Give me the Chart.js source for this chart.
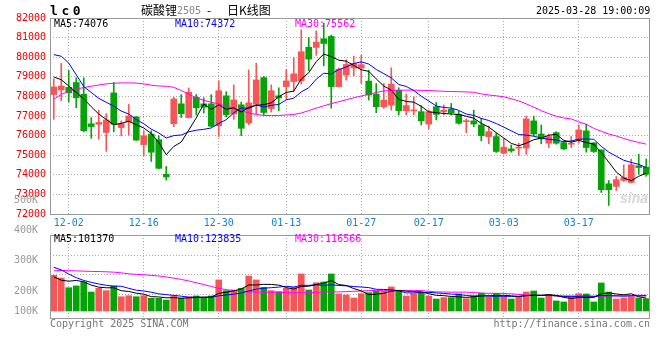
<!DOCTYPE html>
<html>
<head>
<meta charset="utf-8">
<title>碳酸锂2505 日K线图</title>
<script src="https://cdn.jsdelivr.net/npm/chart.js@4/dist/chart.umd.min.js"></script>
<style>
  body { margin: 0; background: #fff; }
  #wrap { position: relative; width: 660px; height: 360px; overflow: hidden; font-family: "DejaVu Sans Mono", monospace; }
  canvas { position: absolute; left: 0; }
  #priceChart { top: 0; }
  #volChart { top: 195px; }
  .txt { position: absolute; font-size: 10px; line-height: 12px; white-space: pre; color: #000; }
  .cjk { font-family: "Noto Sans CJK SC", sans-serif; font-size: 12px; line-height: 14px; }
</style>
</head>
<body>
<div id="wrap">
  <canvas id="priceChart" width="660" height="232"></canvas>
  <canvas id="volChart" width="660" height="145"></canvas>

  <div class="txt" style="left:50px;top:4px;font-size:13px;line-height:14px;font-weight:bold;letter-spacing:3.6px">lc0</div>
  <div class="txt cjk" style="left:141px;top:3px">碳酸锂</div>
  <div class="txt" style="left:177px;top:5px;color:#888">2505</div>
  <div class="txt cjk" style="left:207px;top:3px">-</div>
  <div class="txt cjk" style="left:227px;top:3px">日K线图</div>
  <div class="txt" style="left:536px;top:5px">2025-03-28 19:00:09</div>

  <div class="txt" style="left:54px;top:18px">MA5:74076</div>
  <div class="txt" style="left:175px;top:18px;color:#00f">MA10:74372</div>
  <div class="txt" style="left:295px;top:18px;color:#f0f">MA30:75562</div>

  <div class="txt" style="left:54px;top:233px">MA5:101370</div>
  <div class="txt" style="left:175px;top:233px;color:#00f">MA10:123835</div>
  <div class="txt" style="left:295px;top:233px;color:#f0f">MA30:116566</div>

  <div class="txt" style="left:620px;top:192px;font-family:'Liberation Sans',sans-serif;font-size:14px;font-style:italic;font-weight:bold;color:#d6d6d6">sina</div>

  <div class="txt" style="left:50px;top:318px;color:#777">Copyright 2025 SINA.COM</div>
  <div class="txt" style="right:10px;top:318px;color:#777">http://finance.sina.com.cn</div>
</div>

<script>
// daily candles, 2024-11-28 .. 2025-03-28 (80 trading days)
const open = [
  78090, 78330, 78460, 78710, 78110, 76600, 76580, 76160, 78180, 76410,
  76700, 76950, 75540, 76080, 75790, 74030, 76610, 77620, 76920, 77960,
  77620, 77620, 76500, 78030, 77100, 77570, 76650, 77600, 78960, 77380,
  78030, 78500, 78760, 78800, 80510, 80500, 80940, 81060, 78500, 79090,
  79450, 79450, 78780, 78120, 77470, 77560, 78320, 77270, 77260, 77220,
  76590, 77470, 77220, 77340, 77080, 76710, 76750, 76540, 75950, 75950,
  75100, 75320, 75360, 75360, 76750, 76080, 75610, 76150, 75640, 75560,
  75780, 76240, 75630, 75270, 73540, 73410, 73710, 73610, 74460, 74390
];
const high = [
  78900, 79690, 79320, 78950, 78950, 76920, 77290, 77120, 78710, 76750,
  77590, 76980, 76250, 76250, 75990, 74430, 77960, 78090, 78430, 78100,
  77930, 78090, 78800, 78240, 78590, 77710, 79350, 79700, 79020, 78590,
  78440, 79360, 79980, 81400, 81000, 81340, 81740, 81130, 79450, 79870,
  80050, 80100, 79340, 78660, 78660, 79460, 78440, 78120, 77980, 77530,
  77300, 77690, 77560, 77640, 77250, 76850, 77300, 76880, 76490, 76120,
  75830, 75520, 75610, 77000, 77000, 76540, 76070, 76200, 75700, 75950,
  76540, 76580, 75640, 75270, 73710, 73910, 74510, 74800, 75050, 74810
];
const low = [
  76830, 77790, 77720, 77420, 76200, 75860, 75810, 75200, 76190, 75990,
  76030, 75740, 74970, 74680, 74300, 73730, 76450, 76920, 76900, 77050,
  77150, 76450, 75950, 76950, 76830, 76000, 76560, 77100, 77040, 77200,
  77270, 77850, 78250, 78630, 79310, 80100, 79560, 77400, 78490, 78830,
  79050, 78660, 77810, 77170, 77390, 77300, 77050, 77050, 77050, 76540,
  76340, 76800, 77050, 77050, 76580, 76150, 76460, 75730, 75580, 75140,
  75050, 75150, 74980, 75050, 76000, 75580, 75390, 75560, 75280, 75390,
  75610, 75150, 75140, 73100, 72440, 73200, 73660, 73580, 74030, 73920
];
const close = [
  78480, 78530, 78190, 77930, 76250, 76460, 76670, 76800, 76580, 76610,
  77000, 75770, 75990, 75150, 74330, 73890, 77870, 77120, 78210, 77420,
  77450, 76480, 78290, 77060, 77820, 76370, 77670, 78840, 77180, 78290,
  77920, 78790, 79150, 80280, 79900, 80770, 80700, 78500, 79380, 79630,
  79680, 79620, 78070, 77470, 77810, 78630, 77270, 77530, 77290, 76750,
  77220, 77080, 77300, 77170, 76630, 76750, 76590, 76000, 76200, 75190,
  75410, 75220, 75390, 76850, 76080, 75830, 75950, 75610, 75320, 75610,
  76290, 75390, 75190, 73240, 73240, 73750, 73860, 74510, 74370, 74030
];

// moving-average lines as drawn on the price panel
const ma5 = [
  78990, 78850, 78530, 78200, 77876, 77472, 77100, 76822, 76552, 76624,
  76732, 76552, 76390, 76104, 75648, 75026, 75446, 75672, 76284, 76902,
  77614, 77336, 77570, 77340, 77420, 77204, 77442, 77552, 77576, 77670,
  77980, 78204, 78266, 78886, 79208, 79778, 80160, 80030, 79850, 79796,
  79578, 79362, 79276, 78894, 78530, 78320, 77850, 77742, 77706, 77494,
  77212, 77174, 77128, 77104, 77080, 76986, 76888, 76628, 76434, 76146,
  75878, 75604, 75482, 75612, 75790, 75874, 76020, 76064, 75758, 75664,
  75756, 75644, 75560, 75144, 74650, 74142, 73836, 73700, 73926, 74084
];
const ma10 = [
  80130, 80050, 79700, 79100, 78500, 78200, 77900, 77700, 77500, 77250,
  77102, 76826, 76606, 76328, 76136, 75879, 75999, 76031, 76194, 76275,
  76320, 76391, 76621, 76812, 77161, 77409, 77389, 77561, 77458, 77545,
  77592, 77823, 77909, 78231, 78439, 78879, 79182, 79148, 79368, 79502,
  79678, 79761, 79653, 79372, 79163, 78949, 78606, 78509, 78300, 78012,
  77766, 77512, 77435, 77405, 77287, 77099, 77031, 76878, 76769, 76613,
  76432, 76246, 76055, 76023, 75968, 75876, 75812, 75773, 75685, 75727,
  75815, 75832, 75812, 75451, 75157, 74949, 74740, 74630, 74535, 74367
];
const ma30 = [
  77850, 78100, 78250, 78380, 78450, 78520, 78580, 78640, 78670, 78690,
  78690, 78680, 78640, 78570, 78530, 78520, 78460, 78300, 78120, 77920,
  77800, 77700, 77620, 77500, 77380, 77280, 77150, 77080, 77030, 77020,
  77030, 77050, 77080, 77150, 77280, 77400, 77520, 77630, 77730, 77830,
  77930, 78020, 78110, 78200, 78280, 78300, 78310, 78320, 78320, 78310,
  78300, 78280, 78260, 78250, 78240, 78230, 78210, 78130, 78070, 78030,
  77980, 77880, 77770, 77620, 77450, 77270, 77120, 76990, 76900, 76850,
  76700, 76580, 76370, 76220, 76080, 75980, 75850, 75740, 75650, 75562
];

// volume, thousands of lots
const vol = [
  281, 259, 183, 197, 228, 149, 178, 160, 197, 112,
  120, 112, 120, 100, 100, 86, 118, 100, 112, 118,
  100, 118, 244, 160, 165, 178, 275, 244, 186, 160,
  152, 178, 186, 291, 165, 222, 228, 291, 134, 126,
  102, 136, 144, 155, 157, 189, 160, 118, 136, 149,
  118, 94, 105, 105, 134, 97, 118, 141, 108, 139,
  112, 94, 112, 149, 157, 102, 126, 79, 71, 116,
  136, 134, 71, 220, 149, 94, 102, 112, 102, 97
];
const volMa5 = [
  268, 242, 234, 240, 229.6, 203.2, 187, 182.4, 182.4, 159.2,
  153.4, 140.2, 132.2, 112.8, 110.4, 103.6, 104.8, 100.8, 103.2, 106.8,
  109.6, 109.6, 138.4, 148, 157.4, 173, 204.4, 204.4, 209.6, 208.6,
  203.4, 184, 172.4, 193.4, 194.4, 208.4, 218.4, 239.4, 208, 200.2,
  176.2, 157.8, 128.4, 132.6, 138.8, 156.2, 161, 155.8, 152, 150.4,
  136.2, 123, 120.4, 114.2, 111.2, 107, 111.8, 119, 119.6, 120.6,
  123.6, 118.8, 113, 121.2, 124.8, 122.8, 129.2, 122.6, 107, 98.8,
  105.6, 107.2, 105.6, 135.4, 142, 133.6, 127.2, 135.4, 111.8, 101.4
];
const volMa10 = [
  343, 323, 290, 262, 240, 225, 212, 202, 195, 194.4,
  178.3, 163.6, 157.3, 147.6, 134.8, 128.5, 122.5, 116.5, 108, 108.6,
  106.6, 107.2, 119.6, 125.6, 132.1, 141.3, 157, 171.4, 178.8, 183,
  188.2, 194.2, 188.4, 201.5, 201.5, 205.9, 201.2, 205.9, 200.7, 197.3,
  192.3, 188.1, 183.9, 170.3, 169.5, 166.2, 159.4, 142.1, 142.3, 144.6,
  146.2, 142, 138.1, 133.1, 130.8, 121.6, 117.4, 119.7, 116.9, 115.9,
  115.3, 115.3, 116, 120.4, 122.7, 123.2, 124, 117.8, 114.1, 111.8,
  114.2, 118.2, 114.1, 121.2, 120.4, 119.6, 117.2, 120.5, 123.6, 121.7
];
const volMa30 = [
  316, 318, 317, 315, 313, 311, 310, 308, 305, 300,
  292, 288, 285, 280, 275, 268, 258, 248, 236, 222,
  208, 193, 178, 168, 160, 155, 151, 149, 148, 147,
  146, 145, 144, 144, 145, 147, 149, 150, 150, 152,
  155, 157, 160, 162, 162, 162, 162, 162, 162, 160,
  155, 150, 149, 148, 148, 148, 145, 140, 139, 139,
  138, 135, 130, 126, 124, 122, 121, 120, 119, 118,
  118, 117, 116, 116, 117, 118, 118, 117, 117, 117
];

// date ticks (index into the candle arrays)
const tickIdx = [2, 12, 22, 31, 41, 50, 60, 70];
const tickLabels = ['12-02', '12-16', '12-30', '01-13', '01-27', '02-17', '03-03', '03-17'];

// volume panel: dotted grid levels, and Sina's label column (its own spacing, lowest label pinned to the bar base)
const volGridVals = [131, 283, 435];
const volTickVals = [500, 400, 300, 200, 133];
const volTickLabels = ['500K', '400K', '300K', '200K', '100K'];

const RED = '#f85656';
const GREEN = '#06a306';
const monoFont = { family: '"DejaVu Sans Mono", monospace', size: 10 };
const dotted = { display: false, dash: [1, 2] };

const idx = close.map((_, i) => i);
const candleColors = idx.map(i => close[i] >= open[i] ? RED : GREEN);

// gray box round each plot area
const framePlugin = {
    id: 'frame',
    afterDraw(chart) {
        const a = chart.chartArea;
        const ctx = chart.ctx;
        ctx.save();
        ctx.strokeStyle = '#999';
        ctx.lineWidth = 1;
        ctx.strokeRect(Math.round(a.left) + 0.5, Math.round(a.top) + 0.5,
            Math.round(a.right - a.left) - 1, Math.round(a.bottom - a.top));
        ctx.restore();
    }
};

function maLine(values, color) {
    return {
        type: 'line',
        data: idx.map(i => ({ x: i, y: values[i] })),
        borderColor: color,
        borderWidth: 1,
        pointRadius: 0,
        tension: 0,
        order: 0
    };
}

function dateAxis(showLabels) {
    return {
        type: 'linear',
        min: -0.5,
        max: 79.5,
        offset: false,
        afterBuildTicks: s => { s.ticks = tickIdx.map(v => ({ value: v })); },
        afterFit: s => { s.height = showLabels ? 18 : 0; },
        ticks: {
            display: showLabels,
            autoSkip: false,
            maxRotation: 0,
            padding: 3,
            color: '#1683d8',
            font: monoFont,
            callback: (v, i) => tickLabels[i]
        },
        grid: { color: '#aaa', drawTicks: false, offset: false },
        border: dotted
    };
}

const baseOptions = {
    responsive: false,
    animation: false,
    events: [],
    devicePixelRatio: 1,
    plugins: { legend: { display: false }, tooltip: { enabled: false } }
};

// price panel
new Chart(document.getElementById('priceChart'), {
    type: 'bar',
    data: {
        datasets: [
            maLine(ma5, '#000'),
            maLine(ma10, '#00f'),
            maLine(ma30, '#f0f'),
            {
                data: idx.map(i => ({ x: i, y: [open[i], close[i]] })),
                backgroundColor: candleColors,
                grouped: false,
                barPercentage: 1,
                categoryPercentage: 1,
                maxBarThickness: 6,
                minBarLength: 1,
                order: 1
            },
            {
                data: idx.map(i => ({ x: i, y: [low[i], high[i]] })),
                backgroundColor: candleColors,
                grouped: false,
                barPercentage: 1,
                categoryPercentage: 1,
                maxBarThickness: 1,
                order: 2
            }
        ]
    },
    options: {
        ...baseOptions,
        layout: { padding: { top: 18, right: 10, bottom: 0, left: 0 } },
        scales: {
            x: dateAxis(true),
            y: {
                min: 72000,
                max: 82000,
                beginAtZero: false,
                afterFit: s => { s.width = 50; },
                ticks: {
                    stepSize: 1000,
                    autoSkip: false,
                    padding: 4,
                    color: '#ee0000',
                    font: monoFont,
                    callback: v => String(v)
                },
                grid: { color: '#aaa', drawTicks: false },
                border: dotted
            }
        }
    },
    plugins: [framePlugin]
});

// volume panel
new Chart(document.getElementById('volChart'), {
    type: 'bar',
    data: {
        datasets: [
            maLine(volMa5, '#000'),
            maLine(volMa10, '#00f'),
            maLine(volMa30, '#f0f'),
            {
                data: idx.map(i => ({ x: i, y: vol[i] })),
                backgroundColor: candleColors,
                grouped: false,
                barPercentage: 1,
                categoryPercentage: 1,
                maxBarThickness: 6,
                order: 1
            }
        ]
    },
    options: {
        ...baseOptions,
        layout: { padding: { top: 40, right: 10, bottom: 22, left: 0 } },
        scales: {
            x: dateAxis(false),
            y: {
                min: -55,
                max: 597,
                beginAtZero: false,
                afterBuildTicks: s => { s.ticks = volGridVals.map(v => ({ value: v })); },
                afterFit: s => { s.width = 0; },
                ticks: { display: false },
                grid: { color: '#aaa', drawTicks: false },
                border: dotted
            },
            yLab: {
                axis: 'y',
                position: 'left',
                min: 110,
                max: 386,
                afterBuildTicks: s => { s.ticks = volTickVals.map(v => ({ value: v })); },
                afterFit: s => { s.width = 50; },
                ticks: {
                    autoSkip: false,
                    padding: 4,
                    color: '#999',
                    font: monoFont,
                    callback: (v, i) => volTickLabels[i]
                },
                grid: { display: false },
                border: { display: false }
            }
        }
    },
    plugins: [framePlugin]
});
</script>
</body>
</html>
